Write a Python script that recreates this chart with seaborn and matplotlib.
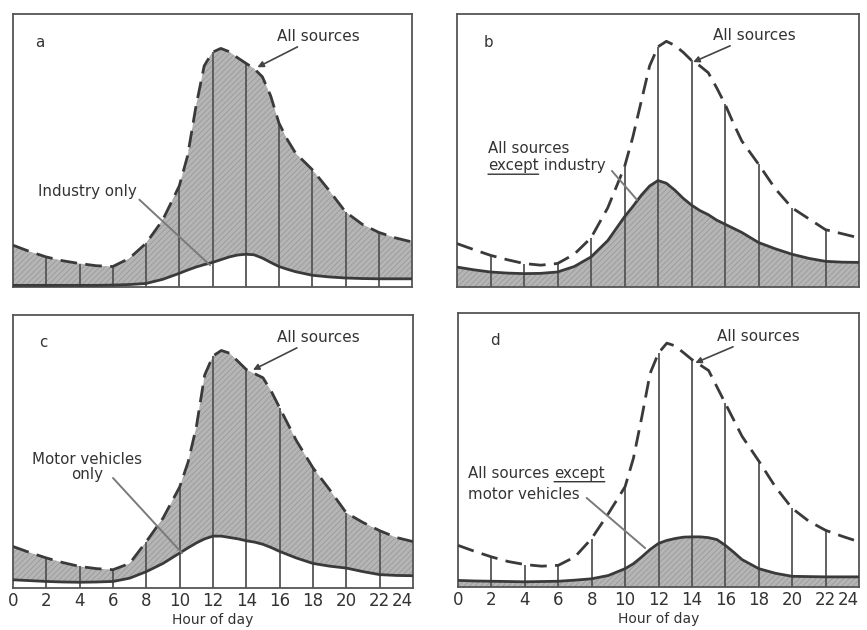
import matplotlib
matplotlib.use("Agg")
import matplotlib.pyplot as plt
import seaborn as sns
import pandas as pd

sns.set_theme(style="white")
plt.rcParams['font.family'] = ['DejaVu Sans']
plt.rcParams['hatch.linewidth'] = 0.4

# ---------------- data (relative units 0-100) -------------
hours = [0, 1, 2, 3, 4, 5, 6, 7, 8, 9, 10, 10.5, 11, 11.5, 12, 12.5, 13, 13.5,
         14, 14.5, 15, 15.5, 16, 16.5, 17, 18, 19, 20, 21, 22, 23, 24]

a_all = [15.3, 13.0, 11.0, 9.6, 8.6, 7.8, 7.5, 10.5, 16, 24.5, 37, 48, 66, 81, 86,
         87.4, 86.2, 84, 82, 80, 77, 70, 60, 54, 49, 43, 35.5, 27.5, 23, 20, 18, 16.5]
a_industry = [0.6, 0.6, 0.6, 0.6, 0.6, 0.6, 0.7, 0.9, 1.3, 2.8, 5, 6.2, 7.3, 8.2, 9,
              10, 11, 11.7, 12, 11.8, 10.6, 9, 7.5, 6.5, 5.6, 4.3, 3.7, 3.3, 3.1, 3.0, 3.0, 3.0]

b_all = [15.9, 13.7, 11.6, 10, 8.6, 8.0, 8.6, 12, 18, 29, 44, 55, 68, 81, 88, 90,
         88.5, 86, 83, 81, 78.5, 73, 67, 60, 53.5, 45, 36, 29, 25, 21, 19.5, 18]
b_except_industry = [7.3, 6.3, 5.5, 5.1, 4.9, 5.0, 5.5, 7.5, 11, 17, 25.7, 29.5, 33.6,
                     37, 39, 38, 35.5, 32.5, 30, 28, 26.5, 24.5, 23, 21.5, 20, 16.3,
                     14, 12, 10.5, 9.4, 9.1, 9.0]

c_all = [15.2, 13, 11, 9.3, 7.9, 7.1, 6.7, 9, 17, 25.6, 37, 46, 59, 78, 85, 87, 86,
         83, 80, 78.5, 77, 72, 66, 60, 54, 44, 36, 27.5, 24, 21, 18.5, 17]
c_motor = [3.0, 2.7, 2.4, 2.2, 2.1, 2.2, 2.4, 3.6, 6, 9, 12.8, 14.7, 16.5, 18, 19, 19,
           18.5, 18, 17.3, 16.8, 16, 14.8, 13.4, 12.2, 11, 9, 8, 7.3, 6, 4.9, 4.6, 4.5]

d_all = [15.2, 13, 11, 9.3, 8.2, 7.6, 7.9, 11, 17.7, 26.8, 36.6, 47, 62, 78, 85.4, 89,
         88, 85.5, 83, 81, 79, 73, 67, 61, 55, 46, 36.5, 28.7, 24, 20.7, 18.5, 16.5]
d_except_motor = [2.4, 2.2, 2.1, 2.0, 1.9, 2.0, 2.1, 2.5, 3.0, 4.2, 6.7, 8.5, 11, 13.7,
                  15.9, 17, 17.7, 18.2, 18.3, 18.3, 18, 17.3, 15.2, 12.7, 10, 6.7, 5,
                  3.9, 3.8, 3.7, 3.7, 3.7]

tick_hours = list(range(0, 25, 2))
grid_hours = list(range(2, 23, 2))
xlabel = "Hour of day"

# ---------------- figure ---------------------------------------------------------
fig = plt.figure(figsize=(8.67, 6.3), dpi=100)
W, H = 867, 630
def px_axes(l, t, r, b):
    return fig.add_axes([l / W, 1 - b / H, (r - l) / W, (b - t) / H])

ax_a = px_axes(13, 14, 412, 287)
ax_b = px_axes(457, 14, 859, 287)
ax_c = px_axes(13, 315, 413, 588)
ax_d = px_axes(458, 313, 859, 587)

INK = "#3a3a3a"
FILL = "#b5b5b5"
HATCH_C = "#8e8e8e"

def base(ax, upper, lower, fill_mode, bottom):
    df = pd.DataFrame({"hour": hours, "upper": upper, "lower": lower})
    if fill_mode == "between":
        ax.fill_between(df["hour"], df["lower"], df["upper"], facecolor=FILL,
                        edgecolor=HATCH_C, hatch="//////", linewidth=0, zorder=1)
    else:
        ax.fill_between(df["hour"], 0, df["lower"], facecolor=FILL,
                        edgecolor=HATCH_C, hatch="//////", linewidth=0, zorder=1)
    sub = df[df["hour"].isin(grid_hours)]
    ax.vlines(sub["hour"], 0, sub["upper"], colors="#555555", linewidth=1.3, zorder=2)
    sns.lineplot(data=df, x="hour", y="upper", ax=ax, color=INK, linewidth=2.0,
                 zorder=3)
    ax.lines[-1].set_dashes([6, 3])
    sns.lineplot(data=df, x="hour", y="lower", ax=ax, color=INK, linewidth=2.0, zorder=3)
    ax.set_xlim(0, 24)
    ax.set_ylim(0, 100)
    ax.set_yticks([])
    ax.set_ylabel("")
    for s in ax.spines.values():
        s.set_color("#555555")
        s.set_linewidth(1.3)
    if bottom:
        ax.set_xticks(tick_hours)
        ax.set_xticklabels([str(h) for h in tick_hours], fontsize=12, color="#333333")
        ax.get_xticklabels()[-1].set_horizontalalignment("right")
        ax.tick_params(axis="x", length=0, pad=3)
        ax.set_xlabel(xlabel, fontsize=10, color="#333333", labelpad=2)
    else:
        ax.set_xticks([])
        ax.set_xlabel("")

base(ax_a, a_all, a_industry, "between", False)
base(ax_b, b_all, b_except_industry, "below", False)
base(ax_c, c_all, c_motor, "between", True)
base(ax_d, d_all, d_except_motor, "below", True)

TXT = dict(fontsize=10.8, color="#333333")
TOP = dict(fontsize=11, color="#333333")
arrow = dict(arrowstyle="-|>", color="#444444", lw=1.2, mutation_scale=9,
             shrinkA=0, shrinkB=0)
leader = dict(arrowstyle="-", color="#7a7a7a", lw=1.4, shrinkA=0, shrinkB=0)
uline = dict(arrowstyle="-", color="#333333", lw=1.0, shrinkA=0, shrinkB=0)

def underline(ax, t):
    ax.annotate("", xy=(0, -0.08), xycoords=t, xytext=(1, -0.08), textcoords=t,
                arrowprops=uline)

# panel a
ax_a.text(1.6, 89.7, "a", ha="center", va="center", **TXT)
ax_a.annotate("All sources", xy=(14.7, 80.5), xytext=(15.9, 91.9),
              ha="left", va="center", arrowprops=arrow, **TOP)
ax_a.annotate("", xy=(11.85, 8), xytext=(7.6, 32.0), arrowprops=leader)
ax_a.text(1.5, 34.8, "Industry only", ha="left", va="center", **TXT)

# panel b
ax_b.text(1.85, 89.7, "b", ha="center", va="center", **TXT)
ax_b.annotate("All sources", xy=(14.1, 82.4), xytext=(15.3, 92.3),
              ha="left", va="center", arrowprops=arrow, **TOP)
ax_b.text(1.85, 50.9, "All sources", ha="left", va="center", **TXT)
tb = ax_b.text(1.85, 44.5, "except", ha="left", va="center", **TXT)
underline(ax_b, tb)
ax_b.annotate(" industry", xy=(1, 0.5), xycoords=tb, ha="left", va="center", **TXT)
ax_b.annotate("", xy=(10.75, 31.9), xytext=(9.25, 42.5), arrowprops=leader)

# panel c
ax_c.text(1.8, 90, "c", ha="center", va="center", **TXT)
ax_c.annotate("All sources", xy=(14.4, 79.9), xytext=(15.84, 91.9),
              ha="left", va="center", arrowprops=arrow, **TOP)
ax_c.text(4.44, 44.5, "Motor vehicles\nonly", ha="center", va="center",
          linespacing=1.0, **TXT)
ax_c.annotate("", xy=(10.14, 12.8), xytext=(6.0, 40.3), arrowprops=leader)

# panel d
ax_d.text(2.2, 90, "d", ha="center", va="center", **TXT)
ax_d.annotate("All sources", xy=(14.2, 81.8), xytext=(15.5, 91.6),
              ha="left", va="center", arrowprops=arrow, **TOP)
td0 = ax_d.text(0.6, 41.6, "All sources ", ha="left", va="center", **TXT)
td1 = ax_d.annotate("except", xy=(1, 0.5), xycoords=td0, ha="left", va="center", **TXT)
underline(ax_d, td1)
ax_d.text(0.6, 33.9, "motor vehicles", ha="left", va="center", **TXT)
ax_d.annotate("", xy=(11.2, 14.2), xytext=(7.7, 32.5), arrowprops=leader)

fig.savefig("out.png", dpi=100, facecolor="white")
